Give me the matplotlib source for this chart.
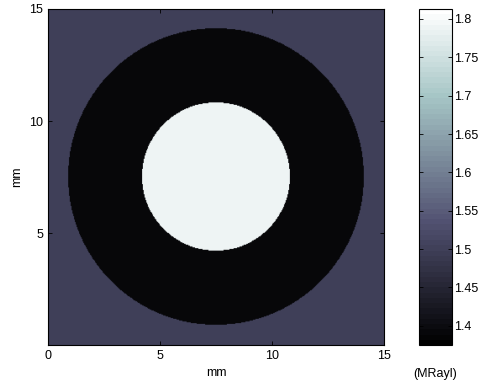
import numpy as np
import matplotlib.pyplot as plt

plt.rcParams["font.family"] = ["Liberation Sans", "DejaVu Sans"]

# phantom geometry (mm) and acoustic impedance (MRayl)
field_size = 15.0
center = (7.5, 7.5)
radii = [6.6, 3.3]            # outer ring, inner disc
impedance = [1.5, 1.395, 1.79]  # background, ring, disc
clim = (1.375, 1.813)

xticks = [0, 5, 10, 15]
yticks = [5, 10, 15]
cbar_ticks = [1.4, 1.45, 1.5, 1.55, 1.6, 1.65, 1.7, 1.75, 1.8]
cbar_ticklabels = ["1.4", "1.45", "1.5", "1.55", "1.6", "1.65", "1.7", "1.75", "1.8"]

n = 400
ax_coord = (np.arange(n) + 0.5) * field_size / n
xx, yy = np.meshgrid(ax_coord, ax_coord)
rr = np.hypot(xx - center[0], yy - center[1])
img = np.full((n, n), impedance[0])
img[rr <= radii[0]] = impedance[1]
img[rr <= radii[1]] = impedance[2]

fig = plt.figure(figsize=(4.8, 3.88), dpi=100)
ax = fig.add_axes([48 / 480, 43 / 388, 336 / 480, 336 / 388])
cax = fig.add_axes([419 / 480, 43 / 388, 33 / 480, 336 / 388])

cmap = plt.get_cmap("bone", 64)
im = ax.imshow(img, cmap=cmap, origin="lower", extent=[0, field_size, 0, field_size],
               vmin=clim[0], vmax=clim[1], interpolation="bilinear", aspect="auto")
ax.set_xticks(xticks)
ax.set_yticks(yticks)
ax.set_xlabel("mm", fontsize=9)
ax.set_ylabel("mm", fontsize=9)
ax.tick_params(direction="in", top=True, right=True, labelsize=9, length=3, width=0.6)
for s in ax.spines.values():
    s.set_linewidth(0.8)

cb = fig.colorbar(im, cax=cax)
cb.set_ticks(cbar_ticks)
cb.set_ticklabels(cbar_ticklabels)
cax.tick_params(direction="in", left=True, right=True, labelsize=9, length=3, width=0.6, pad=1.5)
cb.outline.set_linewidth(0.8)
cax.text(0.5, -0.085, "(MRayl)", transform=cax.transAxes, ha="center", va="center", fontsize=9)

fig.savefig("out.png", dpi=100)
